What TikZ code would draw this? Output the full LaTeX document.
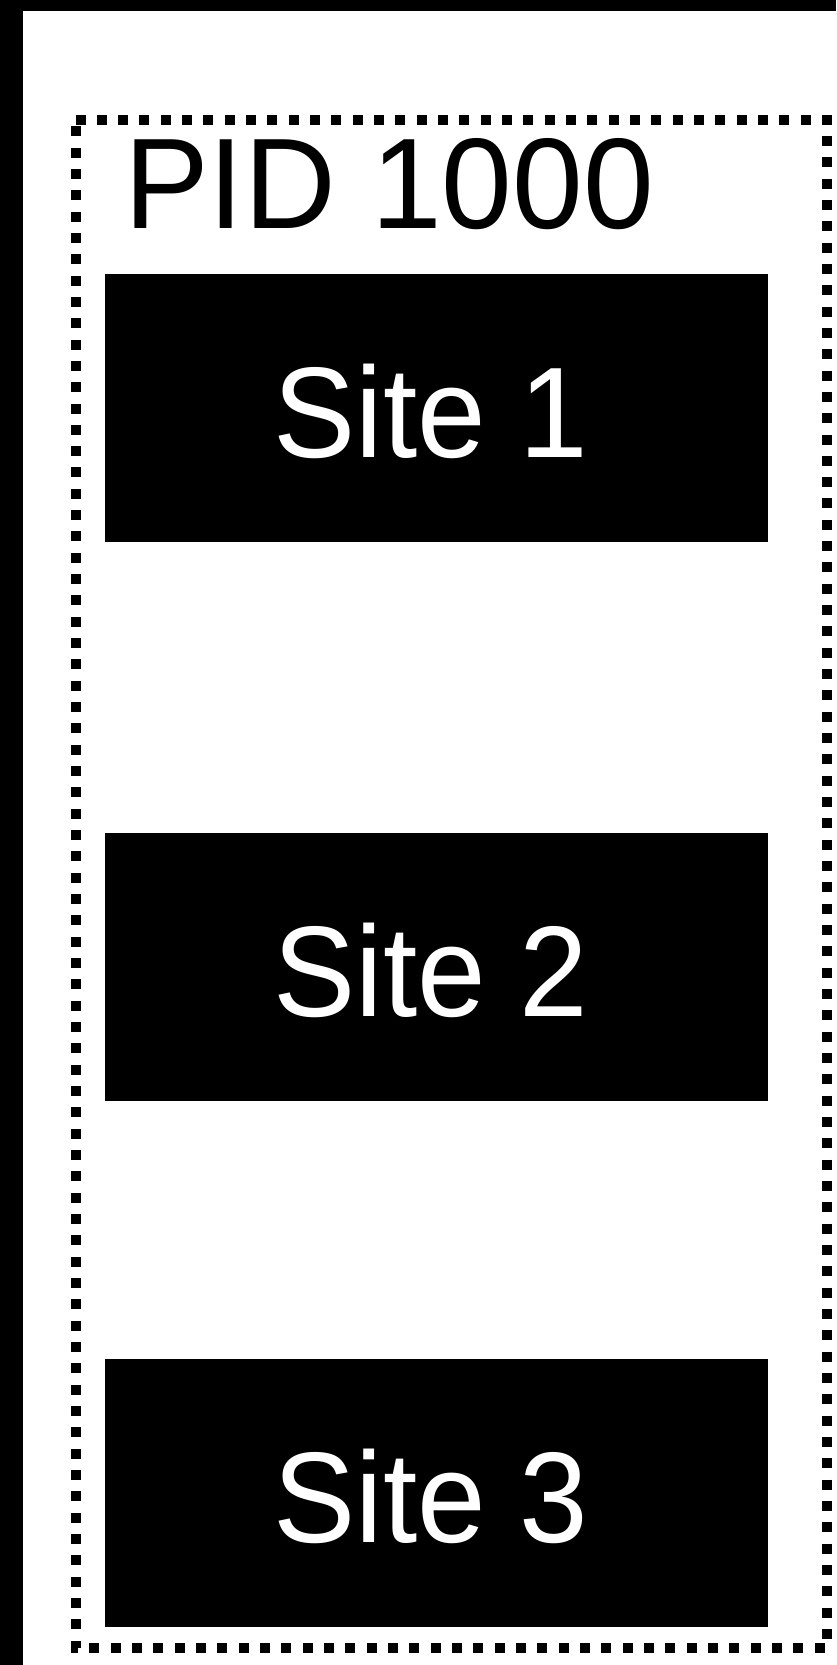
\documentclass[tikz,border=0pt]{standalone}
\usepackage{fontspec}
\usepackage{graphicx}
\setmainfont{Liberation Sans}
\newcommand{\sitetxt}[1]{\scalebox{0.955}[1]{#1}\hspace*{11pt}}
\tikzset{
  sitebox/.style={draw=none, fill=black, text=white, inner sep=0pt,
    minimum width=663pt, minimum height=267.7pt, text height=99pt, text depth=0pt,
    font=\fontsize{129}{150}\selectfont},
  dotframe/.style={line width=10pt, dash pattern=on 10pt off 11.33pt, line cap=butt},
}
\begin{document}
\begin{tikzpicture}[x=1pt,y=-1pt]
\useasboundingbox (0,0) rectangle (836,1665);
\fill[white] (0,0) rectangle (836,1665);
% black frame pieces
\fill[black] (0,0) rectangle (23,1665);
\fill[black] (0,0) rectangle (836,11);
% dotted group frame
\draw[dotframe] (75.5,119.5) -- (827,119.5) -- (827,1648) -- (75.5,1648) -- cycle;
% title
\node[anchor=base west, inner sep=0pt, font=\fontsize{129}{150}\selectfont] (pid) at (124,228.7) {\scalebox{0.985}[1]{PID 1000}};
% sites
\node[sitebox] (s1) at (436.5,408.2) {\sitetxt{Site 1}};
\node[sitebox] (s2) at (436.5,967.3) {\sitetxt{Site 2}};
\node[sitebox] (s3) at (436.5,1493.3) {\sitetxt{Site 3}};
\end{tikzpicture}
\end{document}
